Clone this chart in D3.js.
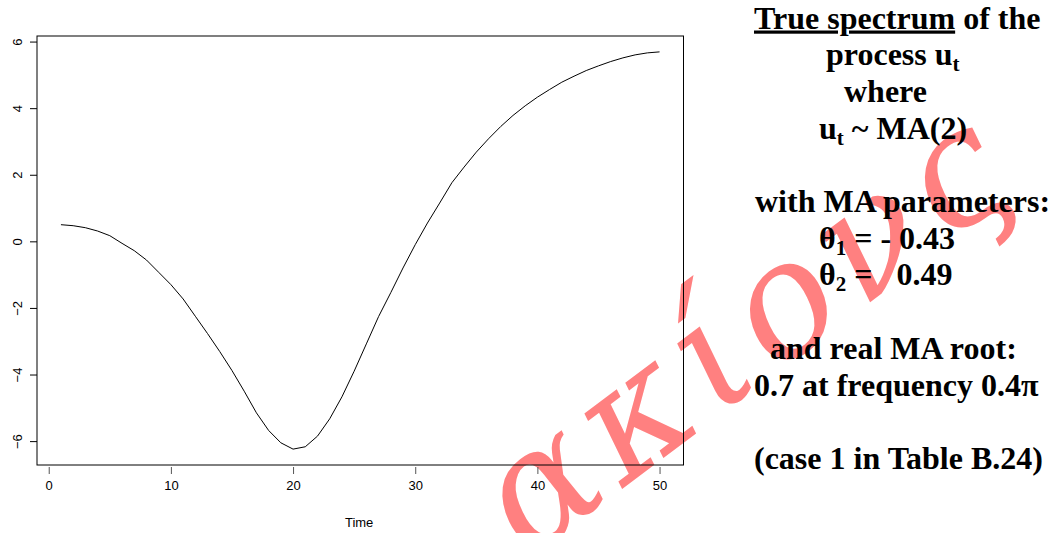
<!DOCTYPE html>
<html>
<head>
<meta charset="utf-8">
<script src="https://cdn.jsdelivr.net/npm/d3@7"></script>
<style>
  html, body { margin: 0; padding: 0; background: #fff; }
  svg { display: block; }
  text { white-space: pre; }
  .note { font-family: "Liberation Serif", "Times New Roman", Times, "DejaVu Serif", serif; font-weight: bold; font-size: 32px; }
  .axis-txt { font-family: "Liberation Sans", Arial, Helvetica, sans-serif; }
</style>
</head>
<body>
<svg id="chart" width="1053" height="533"></svg>
<script>
// ---- data ----
const timeIndex = d3.range(1, 51);
const spectrumValues = [
  0.50, 0.47, 0.41, 0.31, 0.17, -0.06, -0.28, -0.56, -0.93, -1.30,
  -1.73, -2.25, -2.77, -3.31, -3.88, -4.50, -5.15, -5.68, -6.05, -6.24,
  -6.17, -5.85, -5.33, -4.67, -3.90, -3.08, -2.26, -1.54, -0.80, -0.10,
  0.55, 1.15, 1.76, 2.23, 2.68, 3.08, 3.45, 3.78, 4.07, 4.33,
  4.56, 4.78, 4.96, 5.13, 5.27, 5.40, 5.51, 5.60, 5.66, 5.69
];
const xTicks = [0, 10, 20, 30, 40, 50];
const yTicks = [-6, -4, -2, 0, 2, 4, 6];
const xLabel = "Time";
const noteLines = [
  [{t: "True spectrum", u: true}, {t: " of the"}],
  [{t: "process u"}, {t: "t", sub: true}],
  [{t: "where"}],
  [{t: "u"}, {t: "t", sub: true}, {t: " ~ MA(2)"}],
  [],
  [{t: "with MA parameters:"}],
  [{t: "θ"}, {t: "1", sub: true}, {t: " = - 0.43"}],
  [{t: "θ"}, {t: "2", sub: true}, {t: " =   0.49"}],
  [],
  [{t: "and real MA root:"}],
  [{t: "0.7 at frequency 0.4π"}],
  [],
  [{t: "(case 1 in Table B.24)"}]
];
const watermarkText = "ακίονς";

// ---- layout ----
const svg = d3.select("#chart");
const box = {left: 37, right: 683.5, top: 36, bottom: 465};
const data = timeIndex.map((t, i) => ({t, v: spectrumValues[i]}));

// R-style 4% padding
const xr = d3.extent(timeIndex), yr = d3.extent(spectrumValues);
const xPad = (xr[1] - xr[0]) * 0.04, yPad = (yr[1] - yr[0]) * 0.04;
const x = d3.scaleLinear().domain([xr[0] - xPad, xr[1] + xPad]).range([box.left, box.right]);
const y = d3.scaleLinear().domain([yr[0] - yPad, yr[1] + yPad]).range([box.bottom, box.top]);

// watermark (beneath everything)
svg.append("text")
  .attr("transform", "translate(528,560) rotate(-37)")
  .attr("x", 0).attr("y", 0)
  .style("font-family", "'DejaVu Serif', serif")
  .style("font-style", "italic")
  .style("font-size", "160px")
  .attr("fill", "#ff8080")
  .attr("textLength", 615)
  .attr("lengthAdjust", "spacing")
  .text(watermarkText);

// box
svg.append("rect")
  .attr("x", box.left).attr("y", box.top)
  .attr("width", box.right - box.left).attr("height", box.bottom - box.top)
  .attr("fill", "none").attr("stroke", "#000").attr("stroke-width", 1);

// x axis
const xAxis = d3.axisBottom(x).tickValues(xTicks).tickSize(7).tickPadding(7).tickFormat(d3.format("d"));
const gx = svg.append("g").attr("transform", `translate(0,${box.bottom + 2})`).call(xAxis);
gx.attr("font-family", null).attr("font-size", null);
gx.select(".domain").remove();
gx.selectAll("line").attr("stroke", "#555");
gx.selectAll("text").attr("class", "axis-txt").style("font-size", "13px").attr("fill", "#000");

// y axis
const yAxis = d3.axisLeft(y).tickValues(yTicks).tickSize(7).tickFormat(d3.format("d"));
const gy = svg.append("g").attr("transform", `translate(${box.left},0)`).call(yAxis);
gy.select(".domain").remove();
gy.selectAll("line").attr("stroke", "#000");
gy.selectAll("text").remove();
gy.selectAll(".tick").append("text")
  .attr("class", "axis-txt")
  .attr("transform", "translate(-20,0) rotate(-90)")
  .attr("text-anchor", "middle")
  .attr("dy", "0.35em")
  .style("font-size", "13px")
  .attr("fill", "#000")
  .text(d => d3.format("d")(d));

// axis title
svg.append("text")
  .attr("class", "axis-txt")
  .attr("x", (x(0) + x(50)) / 2 + 5).attr("y", 527)
  .attr("text-anchor", "middle")
  .style("font-size", "13px")
  .text(xLabel);

// line
const line = d3.line().x(d => x(d.t)).y(d => y(d.v));
svg.append("path").datum(data)
  .attr("d", line)
  .attr("fill", "none").attr("stroke", "#000").attr("stroke-width", 1);

// notes
const noteStartX = [754, 826, 844, 819, 0, 755, 819, 819, 0, 770, 754, 754, 754];
const noteTop = 28.5, noteStep = 36.7;
const notes = svg.append("g").attr("fill", "#000");
noteLines.forEach((parts, i) => {
  if (!parts.length) return;
  const base = noteTop + i * noteStep;
  const txt = notes.append("text").attr("class", "note").attr("x", noteStartX[i]).attr("y", base);
  let shifted = false;
  parts.forEach(p => {
    const ts = txt.append("tspan").text(p.t);
    if (p.sub) { ts.style("font-size", "21px").attr("dy", 6); shifted = true; }
    else if (shifted) { ts.attr("dy", -6); shifted = false; }
    if (p.u) ts.style("text-decoration", "underline");
  });
});
</script>
</body>
</html>
